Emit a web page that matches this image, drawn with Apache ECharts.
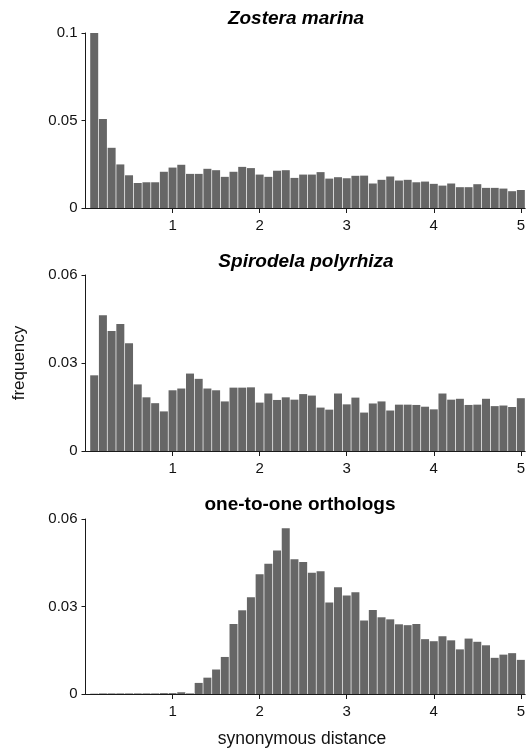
<!DOCTYPE html>
<html>
<head>
<meta charset="utf-8">
<script src="https://cdn.jsdelivr.net/npm/echarts@6/dist/echarts.min.js"></script>
<style>
  html, body { margin: 0; padding: 0; background: #fff; }
  #chart { width: 528px; height: 756px; }
</style>
</head>
<body>
<div id="chart"></div>
<script>
// bin centres: 0.1 .. 5.0, bin width 0.1
const binCenters = [
  0.1, 0.2, 0.3, 0.4, 0.5, 0.6, 0.7, 0.8, 0.9, 1.0,
  1.1, 1.2, 1.3, 1.4, 1.5, 1.6, 1.7, 1.8, 1.9, 2.0,
  2.1, 2.2, 2.3, 2.4, 2.5, 2.6, 2.7, 2.8, 2.9, 3.0,
  3.1, 3.2, 3.3, 3.4, 3.5, 3.6, 3.7, 3.8, 3.9, 4.0,
  4.1, 4.2, 4.3, 4.4, 4.5, 4.6, 4.7, 4.8, 4.9, 5.0
];

const zostera = [
  0.100, 0.0509, 0.0344, 0.0249, 0.0187, 0.0143, 0.0147, 0.0147, 0.0207, 0.0231,
  0.0247, 0.0195, 0.0195, 0.0224, 0.0216, 0.0178, 0.0207, 0.0235, 0.0228, 0.0191,
  0.0178, 0.0213, 0.0216, 0.0172, 0.0191, 0.0191, 0.0205, 0.0168, 0.0176, 0.0170,
  0.0184, 0.0185, 0.0140, 0.0161, 0.0180, 0.0157, 0.0161, 0.0147, 0.0151, 0.0138,
  0.0128, 0.0140, 0.0119, 0.0119, 0.0136, 0.0115, 0.0115, 0.0111, 0.0096, 0.0103
];

const spirodela = [
  0.0258, 0.0463, 0.0409, 0.0433, 0.0367, 0.0227, 0.0183, 0.0163, 0.0135, 0.0207,
  0.0213, 0.0264, 0.0246, 0.0213, 0.0207, 0.0169, 0.0216, 0.0216, 0.0217, 0.0165,
  0.0196, 0.0174, 0.0183, 0.0175, 0.0194, 0.0189, 0.0148, 0.0141, 0.0196, 0.0159,
  0.0182, 0.0131, 0.0162, 0.0169, 0.0138, 0.0158, 0.0158, 0.0157, 0.0151, 0.0142,
  0.0196, 0.0175, 0.0178, 0.0157, 0.0158, 0.0178, 0.0153, 0.0155, 0.0150, 0.0180
];

const orthologs = [
  0.0001, 0.0002, 0.0002, 0.0002, 0.0002, 0.0002, 0.0002, 0.0002, 0.0003, 0.0003,
  0.0006, 0.0002, 0.0038, 0.0056, 0.0084, 0.0127, 0.0240, 0.0287, 0.0332, 0.0411,
  0.0447, 0.0492, 0.0568, 0.0462, 0.0453, 0.0416, 0.0421, 0.0314, 0.0366, 0.0338,
  0.0349, 0.0252, 0.0288, 0.0263, 0.0256, 0.0239, 0.0236, 0.0240, 0.0188, 0.0181,
  0.0198, 0.0184, 0.0153, 0.0190, 0.0179, 0.0167, 0.0124, 0.0135, 0.0140, 0.0117
];

const panelTitles = ["Zostera marina", "Spirodela polyrhiza", "one-to-one orthologs"];
const xTicks = [1, 2, 3, 4, 5];

const FONT = "'Liberation Sans', Arial, sans-serif";
const BAR = "#666666";
const AXIS = "#1a1a1a";

// per-panel layout: grid top/height, y max/interval, title placement
const PANELS = [
  { data: zostera,   top: 33,  height: 175, max: 0.1,  interval: 0.05, titleX: 296, titleY: 9,   italic: true },
  { data: spirodela, top: 275, height: 176, max: 0.06, interval: 0.03, titleX: 306, titleY: 252, italic: true },
  { data: orthologs, top: 519, height: 175, max: 0.06, interval: 0.03, titleX: 300, titleY: 495, italic: false },
];

const option = {
  animation: false,
  backgroundColor: "#fff",
  textStyle: { fontFamily: FONT },
  title: PANELS.map((p, i) => ({
    text: panelTitles[i],
    left: p.titleX,
    top: p.titleY,
    textAlign: "center",
    padding: 0,
    textStyle: {
      fontFamily: FONT,
      fontSize: 19,
      fontWeight: "bold",
      fontStyle: p.italic ? "italic" : "normal",
      color: "#000",
    },
  })),
  grid: PANELS.map((p) => ({ left: 85.5, right: 0, top: p.top, height: p.height })),
  xAxis: PANELS.map((p, i) => ({
    type: "value",
    gridIndex: i,
    min: 0,
    max: 5.05,
    interval: 1,
    splitLine: { show: false },
    axisLine: { show: true, lineStyle: { color: AXIS, width: 1 } },
    axisTick: { show: true, customValues: xTicks, length: 5, lineStyle: { color: AXIS } },
    axisLabel: { customValues: xTicks, margin: 10, fontSize: 15, color: "#111", fontFamily: FONT },
  })),
  yAxis: PANELS.map((p, i) => ({
    type: "value",
    gridIndex: i,
    min: 0,
    max: p.max,
    interval: p.interval,
    splitLine: { show: false },
    axisLine: { show: true, lineStyle: { color: AXIS, width: 1 } },
    axisTick: { show: true, length: 4, lineStyle: { color: AXIS } },
    axisLabel: { margin: 8, fontSize: 15, color: "#111", fontFamily: FONT },
  })),
  series: PANELS.map((p, i) => ({
    type: "bar",
    xAxisIndex: i,
    yAxisIndex: i,
    barWidth: 8,
    itemStyle: { color: BAR },
    data: binCenters.map((x, j) => [x, p.data[j]]),
  })),
  graphic: [
    {
      type: "text",
      x: 19,
      y: 363,
      rotation: Math.PI / 2,
      style: {
        text: "frequency",
        font: "17px " + FONT,
        fill: "#111",
        align: "center",
        verticalAlign: "middle",
      },
    },
    {
      type: "text",
      x: 302,
      y: 739,
      style: {
        text: "synonymous distance",
        font: "17.5px " + FONT,
        fill: "#111",
        align: "center",
        verticalAlign: "middle",
      },
    },
  ],
};

const chart = echarts.init(document.getElementById("chart"), null, { renderer: "canvas" });
chart.setOption(option);
</script>
</body>
</html>
